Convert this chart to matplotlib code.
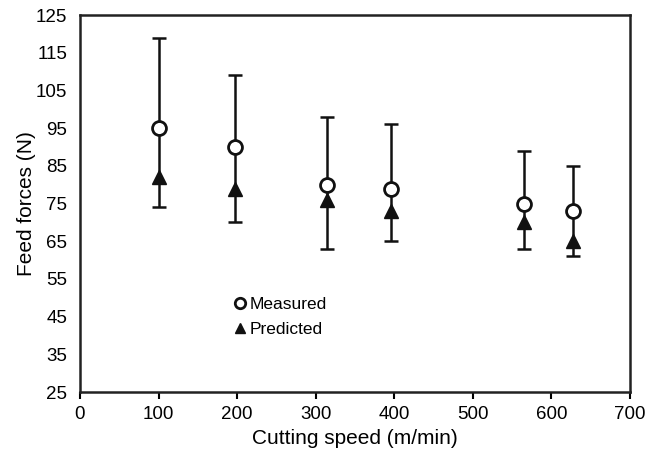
import matplotlib.pyplot as plt

speed = [100, 197, 314, 396, 565, 628]
measured = [95, 90, 80, 79, 75, 73]
predicted = [82, 79, 76, 73, 70, 65]
err_high = [119, 109, 98, 96, 89, 85]
err_low = [74, 70, 63, 65, 63, 61]

plt.rcParams['font.family'] = ['Liberation Sans', 'DejaVu Sans']

fig = plt.figure(figsize=(6.61, 4.57), dpi=100)
ax = fig.add_axes([0.121, 0.142, 0.832, 0.825])

# one bar per speed, from lowest to highest value
lower = [m - lo for m, lo in zip(measured, err_low)]
upper = [hi - m for m, hi in zip(measured, err_high)]
ax.errorbar(speed, measured, yerr=[lower, upper], fmt='none', ecolor='#111111',
            elinewidth=1.8, capsize=5, capthick=1.8, zorder=2)

ax.plot(speed, predicted, '^', color='#111111', markersize=10, label='Predicted', zorder=3)
ax.plot(speed, measured, 'o', markerfacecolor='white', markeredgecolor='#111111',
        markeredgewidth=2, markersize=10, label='Measured', zorder=4)

ax.set_xlim(0, 700)
ax.set_ylim(25, 125)
ax.set_xticks(range(0, 701, 100))
ax.set_yticks(range(25, 126, 10))
ax.tick_params(axis='x', direction='out', length=5, width=1.5, labelsize=13.5, pad=5)
ax.tick_params(axis='y', length=0, labelsize=13.5, pad=9)
for s in ax.spines.values():
    s.set_linewidth(1.8)
    s.set_color('#222222')

ax.set_xlabel('Cutting speed (m/min)', fontsize=15)
ax.set_ylabel('Feed forces (N)', fontsize=15, labelpad=0)

handles, labels = ax.get_legend_handles_labels()
leg = ax.legend(handles[::-1], labels[::-1], frameon=False, fontsize=12.5,
                loc='upper left', bbox_to_anchor=(0.25, 0.295),
                handlelength=0.8, handletextpad=0.15, labelspacing=0.6, markerscale=0.75)

fig.savefig('out.png', dpi=100)
